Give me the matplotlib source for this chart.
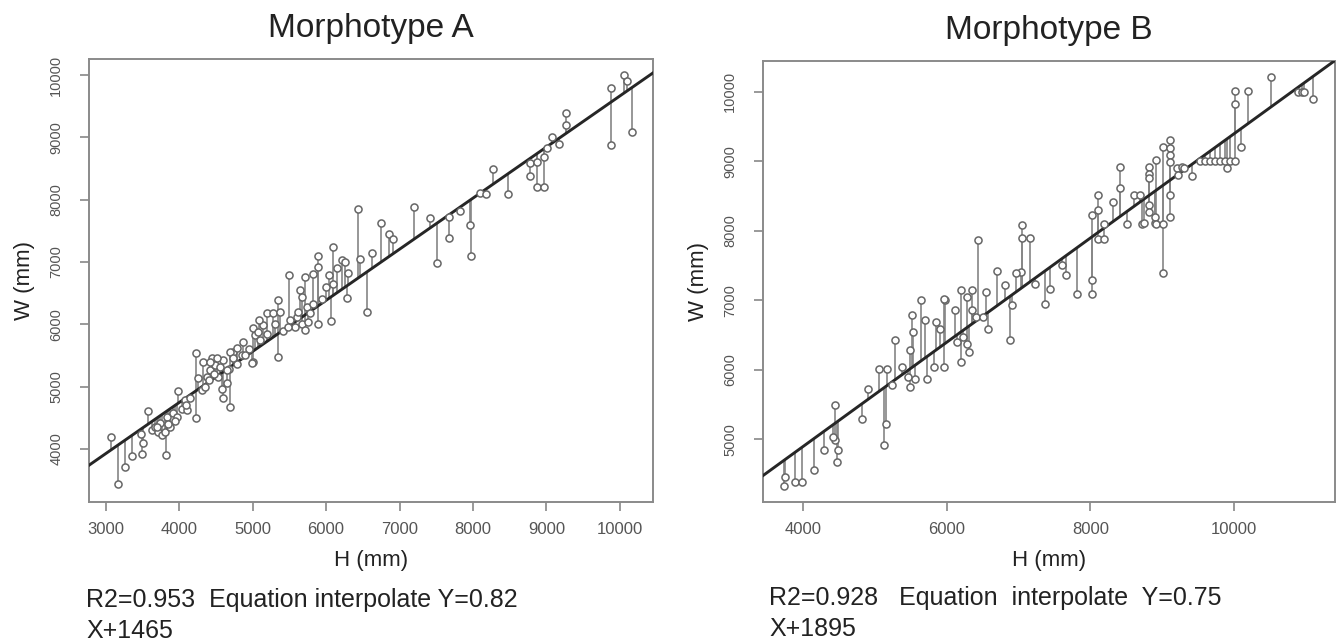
import numpy as np
import matplotlib
matplotlib.use("Agg")
import matplotlib.pyplot as plt

plt.rcParams['font.family'] = ['Liberation Sans', 'DejaVu Sans']

# Morphotype A : H (mm) vs W (mm)
h_a = [3067, 3163, 3267, 3362, 3489, 3503, 3475, 3580, 3625, 3670, 3716, 3761, 3738, 3806,
       3820, 3829, 3875, 3920, 3965, 3988, 4033, 4101, 4079, 4147, 4228, 4224, 4260, 4305,
       4328, 4373, 4419, 4441, 4487, 4532, 4577, 4600, 4646, 4691, 4682, 4736, 4782, 4850,
       5000, 5031, 5099, 5190, 5144,
       4600, 4510, 4419, 4555, 4646, 4986, 4873, 4782, 4691, 4737, 5009, 5077, 5086, 5281,
       5371, 5348, 5348, 5498, 5508, 5576, 5599, 5644, 5666, 5666, 5712, 5712, 5735, 5757,
       5825, 5884, 5893, 5893, 6043, 6061, 6088, 6143, 6211, 6256, 6279, 6302,
       5420, 5480, 5620, 5780, 5820, 5950, 6000, 6100, 5300, 5200, 4950, 4900, 4400, 4350,
       4480, 4100, 3950, 3700, 3850,
       6429, 6457, 6555, 6630, 6744, 6859, 6917, 7203, 7416, 7508, 7680, 7680, 7823, 7960,
       7975, 8093, 8179, 8277, 8483, 8770, 8770, 8868, 8868, 8966, 8966, 9011, 9069, 9172,
       9270, 9270, 9872, 9872, 10056, 10090, 10159]
w_a = [4194, 3430, 3713, 3884, 3916, 4088, 4248, 4607, 4302, 4355, 4275, 4221, 4409, 4275,
       3911, 4516, 4355, 4569, 4516, 4933, 4649, 4623, 4783, 4810, 5543, 4489, 5131, 4943,
       5398, 5158, 5265, 5452, 5345, 5158, 4970, 4810, 5051, 4676, 5275, 5559, 5371, 5505,
       5398, 5826, 5746, 6174, 5987,
       5425, 5452, 5398, 5318, 5264, 5372, 5719, 5612, 5559, 5452, 5933, 5880, 6077, 6174,
       6201, 6388, 5478, 6790, 6067, 5960, 6120, 6548, 6441, 6013, 5906, 6752, 6281, 6040,
       6806, 5998, 7095, 6923, 6790, 6051, 7234, 6900, 7030, 7003, 6415, 6816,
       5900, 5950, 6200, 6180, 6330, 6400, 6600, 6650, 6000, 5850, 5600, 5500, 5100, 5000,
       5200, 4700, 4450, 4350, 4400,
       7844, 7041, 6201, 7138, 7630, 7443, 7362, 7887, 7699, 6977, 7389, 7726, 7817, 7590,
       7095, 8101, 8090, 8491, 8090, 8582, 8379, 8600, 8208, 8208, 8689, 8823, 9000, 8887,
       9395, 9200, 9796, 8876, 10000, 9900, 9090]

# Morphotype B
h_b = [3736, 3754, 3883, 3983, 4147, 4294, 4452, 4452, 4481, 4470, 4411, 4822, 4898, 5056,
       5127, 5162, 5174, 5244, 5279, 5379, 5467, 5496, 5514, 5525, 5496, 5555, 5643, 5701,
       5731, 5819, 5848, 5907, 5966, 5983, 6112, 6141, 6200, 6229, 6288, 6317, 6347, 6405,
       6511, 6581, 6875, 6904, 7373,
       7051, 7051, 7156, 7039, 6963, 6435, 6699, 6816, 7227, 7432, 6347, 6200, 6288, 5966,
       6552,
       7608, 7667, 7813, 8018, 8018, 8018, 8107, 8107, 8107, 8195, 8195, 8312, 8412, 8412,
       8517, 8605, 8693, 8722, 8752, 8815, 8815, 8815, 8815, 8815, 8898, 8898, 8913, 8913,
       9005, 9005, 9016, 9107, 9107, 9107, 9107, 9107, 9107, 9200, 9221, 9270, 9309, 9409,
       9525, 9595, 9664, 9734, 9804, 9873, 9943, 10012, 9906, 10012, 10012, 10101, 10198,
       10511, 10893, 10940, 10981, 11098]
w_b = [4324, 4453, 4381, 4381, 4564, 4838, 5486, 4982, 4838, 4670, 5030, 5294, 5726, 6014,
       4910, 5222, 6014, 5774, 6432, 6038, 5894, 6278, 6783, 6543, 5750, 5870, 6999, 6711,
       5861, 6038, 6687, 6591, 6038, 6999, 6855, 6399, 6110, 6471, 6375, 6254, 6855, 6759,
       6759, 6591, 6423, 6927, 6951,
       8089, 7902, 7902, 7407, 7393, 7863, 7417, 7215, 7239, 7167, 7143, 7143, 7047, 7023,
       7119,
       7503, 7359, 7095, 8224, 7297, 7095, 8512, 8296, 7887, 7887, 8103, 8416, 8910, 8608,
       8103, 8512, 8512, 8103, 8104, 8920, 8810, 8760, 8367, 8271, 8104, 8200, 9016, 8103,
       9208, 8103, 7393, 9304, 9184, 9088, 8992, 8511, 8199, 8896, 8800, 8920, 8896, 8790,
       9000, 9000, 9000, 9000, 9000, 9000, 9000, 9000, 8896, 10010, 9823, 9208, 10010,
       10210, 10000, 10000, 10000, 9890]

# fitted equations printed under each panel
slope_a, icpt_a, r2_a = 0.82, 1465, 0.953
slope_b, icpt_b, r2_b = 0.75, 1895, 0.928

W, H = 1342, 644
fig = plt.figure(figsize=(W / 100, H / 100), dpi=100)
fig.patch.set_facecolor('white')


def draw_panel(rect, h, w, slope, icpt, title, xlim, ylim, xticks, yticks):
    ax = fig.add_axes(rect)
    h = np.array(h, dtype=float)
    w = np.array(w, dtype=float)
    fit = slope * h + icpt
    # residual segments
    ax.vlines(h, w, fit, colors='#858585', linewidth=1.2, zorder=2)
    ax.axline((0, icpt), slope=slope, color='#262626', linewidth=2.1, zorder=3)
    ax.scatter(h, w, s=26, facecolors='white', edgecolors='#666666',
               linewidths=1.1, zorder=4)
    ax.set_xlim(*xlim)
    ax.set_ylim(*ylim)
    ax.set_xticks(xticks)
    ax.set_yticks(yticks)
    ax.set_yticklabels([str(t) for t in yticks], rotation=90, va='center')
    ax.tick_params(direction='out', length=6.5, width=1.2, color='#888888',
                   labelcolor='#555555')
    ax.tick_params(axis='x', pad=8, labelsize=12)
    ax.tick_params(axis='y', pad=12, labelsize=10.5)
    for sp in ax.spines.values():
        sp.set_color('#8a8a8a')
        sp.set_linewidth(1.4)
    ax.set_xlabel('H (mm)', fontsize=16, color='#222222', labelpad=9)
    ax.set_ylabel('W (mm)', fontsize=16, color='#222222', labelpad=10)
    ax.set_title(title, fontsize=24, color='#222222', pad=16)
    return ax


draw_panel([89 / W, 1 - 502 / H, 564 / W, 443 / H], h_a, w_a, slope_a, icpt_a,
           'Morphotype A', (2773, 10450), (3149, 10257),
           range(3000, 10001, 1000), range(4000, 10001, 1000))
draw_panel([763 / W, 1 - 502 / H, 572 / W, 441 / H], h_b, w_b, slope_b, icpt_b,
           'Morphotype B', (3443, 11406), (4097, 10442),
           range(4000, 10001, 2000), range(5000, 10001, 1000))

txt = dict(fontsize=18, color='#222222', va='baseline', ha='left')
fig.text(86 / W, 1 - 607 / H, 'R2=%.3f  Equation interpolate Y=%.2f' % (r2_a, slope_a), **txt)
fig.text(86 / W, 1 - 638 / H, 'X+%d' % icpt_a, **txt)
fig.text(769 / W, 1 - 605 / H, 'R2=%.3f   Equation  interpolate  Y=%.2f' % (r2_b, slope_b), **txt)
fig.text(769 / W, 1 - 636 / H, 'X+%d' % icpt_b, **txt)

fig.savefig('out.png', dpi=100)
